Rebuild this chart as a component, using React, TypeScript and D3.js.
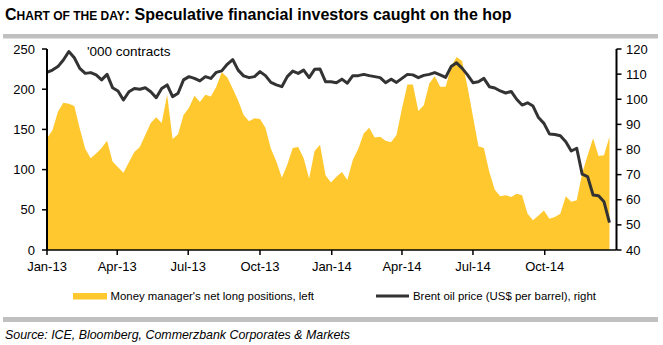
import React from "react";
import * as d3 from "d3";

const START = Date.UTC(2013, 0, 1);
// weekly observations (thousand contracts), money managers' net long positions
const positions = [
  139, 149, 172, 183, 182, 179, 151, 126, 114, 120,
  127, 136, 110, 103, 96, 109, 122, 128, 143, 158,
  165, 158, 193, 138, 144, 168, 177, 192, 184, 193,
  191, 203, 221, 215, 201, 186, 168, 160, 164, 163,
  152, 126, 110, 90, 106, 127, 128, 114, 89, 123,
  131, 93, 84, 91, 97, 87, 112, 126, 145, 152,
  140, 141, 136, 134, 143, 176, 206, 206, 173, 180,
  207, 216, 203, 203, 228, 240, 235, 203, 166, 129,
  127, 97, 75, 67, 68, 66, 70, 68, 45, 37,
  43, 49, 39, 41, 45, 67, 60, 62, 95, 118,
  139, 117, 118, 141,
];
// Brent oil price, US$ per barrel
const brent = [
  110.7, 111.6, 113, 115.6, 119, 116.5, 112.3, 110.3, 110.6, 109.7,
  107.7, 109.9, 104.6, 103.3, 99.7, 103, 104.3, 104, 104.6, 103,
  100.6, 104.3, 105.7, 101, 102.4, 107.7, 109, 108.3, 107.3, 109,
  108.3, 110.7, 111.3, 113.9, 115.8, 111.6, 109.3, 108.6, 109, 111,
  109.4, 106.7, 105.7, 105, 109, 111.2, 110.3, 111.6, 108.6, 111.9,
  112, 107, 107, 106.6, 108, 106.4, 109.4, 109.4, 109.9, 109.4,
  109, 108.6, 106.6, 108, 106.7, 108.3, 109.9, 109.7, 108.6, 109.5,
  109.9, 110.6, 109.7, 108.7, 113, 114.5, 112.4, 109.7, 106.6, 107,
  108.3, 105, 104.5, 103.3, 102.5, 103.1, 100, 97.7, 98.6, 97.3,
  92.7, 90.4, 86.2, 86, 85.5, 83.1, 79.4, 80.5, 70.2, 69.2,
  61.9, 61.6, 59.2, 50.9,
];
const dates = positions.map((_, i) => new Date(START + i * 7 * 86400000));
const leftTicks = [0, 50, 100, 150, 200, 250];
const rightTicks = [40, 50, 60, 70, 80, 90, 100, 110, 120];
const xTickDates = [
  [2013, 0], [2013, 3], [2013, 6], [2013, 9],
  [2014, 0], [2014, 3], [2014, 6], [2014, 9],
].map(([y, m]) => new Date(Date.UTC(y, m, 1)));

const title = "Speculative financial investors caught on the hop";
const unitLabel = "'000 contracts";
const legend1 = "Money manager's net long positions, left";
const legend2 = "Brent oil price (US$ per barrel), right";
const source = "Source: ICE, Bloomberg, Commerzbank Corporates & Markets";

const YELLOW = "#FFC82E";
const LINE = "#333333";
const FONT = "'Liberation Sans', Arial, sans-serif";

export default function App() {
  const x = d3
    .scaleUtc()
    .domain([new Date(Date.UTC(2013, 0, 1)), new Date(Date.UTC(2015, 0, 1))])
    .range([47, 616.5]);
  const yL = d3.scaleLinear().domain([0, 250]).range([250, 49]);
  const yR = d3.scaleLinear().domain([40, 120]).range([250, 49]);
  const fmt = d3.utcFormat("%b-%y");

  const area = d3
    .area<number>()
    .x((_, i) => x(dates[i]))
    .y0(yL(0))
    .y1((d) => yL(d));
  const line = d3
    .line<number>()
    .x((_, i) => x(dates[i]))
    .y((d) => yR(d));

  const x0 = x.range()[0];
  const x1 = x.range()[1];

  return (
    <div style={{ position: "absolute", left: 0, top: 0 }}>
      <svg width={663} height={345} style={{ display: "block", background: "#fff" }} fontFamily={FONT}>
        <text x={5} y={20} fontSize={16} fontWeight="bold" fill="#000">
          <tspan>C</tspan>
          <tspan fontSize={12}>HART OF THE DAY</tspan>
          <tspan>: {title}</tspan>
        </text>
        <rect x={3} y={34} width={655} height={4.5} fill="#c0c0c0" />

        <path d={area(positions) || ""} fill={YELLOW} />
        <path d={line(brent) || ""} fill="none" stroke={LINE} strokeWidth={3} strokeLinejoin="round" />

        {/* left axis */}
        <line x1={x0} x2={x0} y1={49} y2={250} stroke="#000" strokeWidth={2} />
        {leftTicks.map((t) => (
          <g key={"l" + t}>
            <line x1={x0 - 5} x2={x0} y1={yL(t)} y2={yL(t)} stroke="#000" strokeWidth={1.5} />
            <text x={35} y={yL(t)} dy="0.35em" textAnchor="end" fontSize={13} fill="#000">
              {t}
            </text>
          </g>
        ))}
        {/* right axis */}
        <line x1={x1} x2={x1} y1={49} y2={250} stroke="#000" strokeWidth={2} />
        {rightTicks.map((t) => (
          <g key={"r" + t}>
            <line x1={x1} x2={x1 + 5} y1={yR(t)} y2={yR(t)} stroke="#000" strokeWidth={1.5} />
            <text x={626} y={yR(t)} dy="0.35em" textAnchor="start" fontSize={13} fill="#000">
              {t}
            </text>
          </g>
        ))}
        {/* bottom axis */}
        <line x1={x0} x2={x1} y1={250} y2={250} stroke="#000" strokeWidth={1.5} />
        {xTickDates.map((d) => (
          <g key={d.toISOString()}>
            <line x1={x(d)} x2={x(d)} y1={250} y2={255} stroke="#000" strokeWidth={1.5} />
            <text x={x(d)} y={271} textAnchor="middle" fontSize={13} fill="#000">
              {fmt(d)}
            </text>
          </g>
        ))}

        <text x={87} y={56} fontSize={13.5} fill="#000">
          {unitLabel}
        </text>

        {/* legend */}
        <rect x={73} y={293} width={34} height={6.5} fill={YELLOW} />
        <text x={110.5} y={300.3} fontSize={11.4} fill="#000">
          {legend1}
        </text>
        <line x1={376} x2={409} y1={296} y2={296} stroke={LINE} strokeWidth={3} />
        <text x={413} y={300.3} fontSize={11.4} fill="#000">
          {legend2}
        </text>

        <rect x={3} y={317} width={655} height={5} fill="#c0c0c0" />
        <text x={5} y={339} fontSize={12.4} fontStyle="italic" fill="#000">
          {source}
        </text>
      </svg>
    </div>
  );
}
